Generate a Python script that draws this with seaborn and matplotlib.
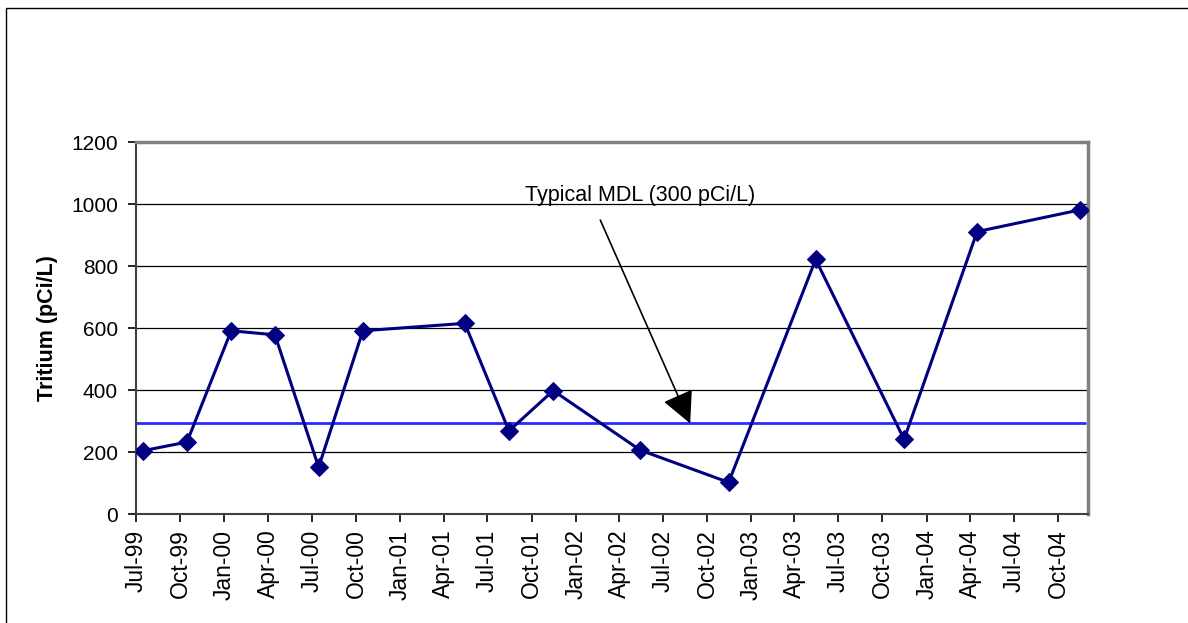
import matplotlib
matplotlib.use("Agg")
import matplotlib.pyplot as plt
import matplotlib.dates as mdates
from matplotlib.patches import Rectangle
import seaborn as sns
import pandas as pd
import numpy as np

# ---- data ----
sample_dates = ["1999-07-15", "1999-10-15", "2000-01-15", "2000-04-15", "2000-07-15",
                "2000-10-15", "2001-05-15", "2001-08-15", "2001-11-15", "2002-05-15",
                "2002-11-15", "2003-05-15", "2003-11-15", "2004-04-15", "2004-11-15"]
tritium = [205, 233, 592, 579, 152, 592, 616, 269, 399, 207, 103, 822, 242, 912, 982]
mdl_value = 293
mdl_label = "Typical MDL (300 pCi/L)"
y_label = "Tritium (pCi/L)"
y_ticks = [0, 200, 400, 600, 800, 1000, 1200]

df = pd.DataFrame({"date": pd.to_datetime(sample_dates), "tritium": tritium})

sns.set_theme(style="white")
plt.rcParams["font.family"] = ["Liberation Sans", "DejaVu Sans"]

W, H = 1188, 623
fig = plt.figure(figsize=(W / 100, H / 100), dpi=100)
ax = fig.add_axes([136 / W, 1 - 514.3 / H, (1087.7 - 136) / W, (514.3 - 142.3) / H])

# outer chart frame
fig.patches.append(Rectangle((6 / W, -0.1), 1.2, 1 - 8 / H + 0.1, transform=fig.transFigure,
                             fill=False, edgecolor="black", linewidth=1.0))

# gridlines
for yv in y_ticks[1:-1]:
    ax.axhline(yv, color="black", linewidth=0.9, zorder=1)

# MDL line
ax.axhline(mdl_value, color="#2a2aff", linewidth=2.0, zorder=2, xmax=0.997)

sns.lineplot(data=df, x="date", y="tritium", ax=ax, color="#000080", linewidth=2.2,
             marker="D", markersize=9, markeredgecolor="#000080", zorder=3)

ax.set_xlim(pd.Timestamp("1999-07-01"), pd.Timestamp("2004-12-01"))
ax.set_ylim(0, 1200)
ax.set_yticks(y_ticks)
ax.set_yticklabels([str(v) for v in y_ticks])

ax.xaxis.set_major_locator(mdates.MonthLocator(bymonth=[1, 4, 7, 10]))
ax.xaxis.set_major_formatter(mdates.DateFormatter("%b-%y"))
plt.setp(ax.get_xticklabels(), rotation=90, ha="center", va="top")

ax.tick_params(axis="both", which="major", labelsize=15, colors="black",
               length=6, width=1.2, direction="out", pad=5)
ax.tick_params(axis="x", pad=5, labelsize=16.5)
ax.tick_params(axis="y", pad=7)
ax.xaxis.set_ticks_position("bottom")
ax.yaxis.set_ticks_position("left")

for side in ["left", "bottom"]:
    ax.spines[side].set_color("#404040")
    ax.spines[side].set_linewidth(1.5)
for side in ["top", "right"]:
    ax.spines[side].set_color("#808080")
    ax.spines[side].set_linewidth(2.5)
    ax.spines[side].set_visible(True)

ax.set_xlabel("")
ax.set_ylabel(y_label, fontsize=15.5, fontweight="bold", color="black")
ax.yaxis.set_label_coords(-0.082, 0.5)

# annotation
ax.text(pd.Timestamp("2002-05-14"), 1028, mdl_label, fontsize=15.5, color="black",
        ha="center", va="center", zorder=5)
ax.annotate("", xy=(pd.Timestamp("2002-08-27"), mdl_value),
            xytext=(pd.Timestamp("2002-02-21"), 949),
            arrowprops=dict(arrowstyle="-|>,head_length=0.9,head_width=0.45",
                            color="black", lw=1.2, shrinkA=0, shrinkB=0,
                            mutation_scale=22),
            zorder=5)

fig.savefig("out.png", dpi=100, facecolor="white")
